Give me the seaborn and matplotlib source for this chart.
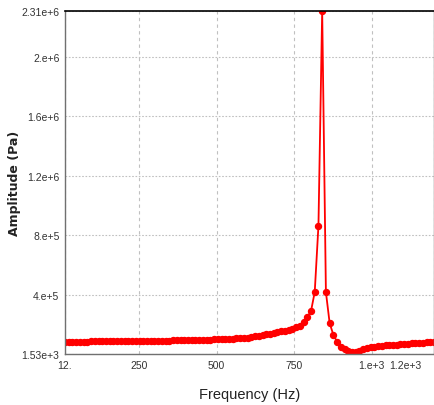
import matplotlib
matplotlib.use('Agg')
import matplotlib.pyplot as plt
from matplotlib.transforms import ScaledTranslation
import seaborn as sns
import pandas as pd

# frequency samples (Hz)
freq = [12, 24, 36, 48, 60, 72, 84, 96, 108, 120,
        132, 144, 156, 168, 180, 192, 204, 216, 228, 240,
        252, 264, 276, 288, 300, 312, 324, 336, 348, 360,
        372, 384, 396, 408, 420, 432, 444, 456, 468, 480,
        492, 504, 516, 528, 540, 552, 564, 576, 588, 600,
        612, 624, 636, 648, 660, 672, 684, 696, 708, 720,
        732, 744, 756, 768, 780, 792, 804, 816, 828, 840,
        852, 864, 876, 888, 900, 912, 924, 936, 948, 960,
        972, 984, 996, 1008, 1020, 1032, 1044, 1056, 1068, 1080,
        1092, 1104, 1116, 1128, 1140, 1152, 1164, 1176, 1188, 1200]

# amplitude in kPa
amp_kpa = [84, 84, 84, 85, 85, 85, 85, 86, 86, 86,
           86, 86, 87, 87, 87, 87, 88, 88, 88, 88,
           89, 89, 89, 90, 90, 91, 91, 92, 92, 93,
           93, 94, 94, 95, 96, 96, 97, 98, 98, 99,
           100, 101, 102, 103, 104, 105, 107, 108, 110, 112,
           118, 121, 125, 129, 133, 138, 143, 148, 153, 158,
           163, 170, 180, 192, 215, 250, 290, 418, 866, 2310,
           418, 210, 130, 84, 52, 32, 20, 14, 18, 24,
           32, 40, 46, 50, 53, 56, 59, 61, 63, 65,
           67, 69, 71, 73, 75, 77, 78, 80, 82, 84]

xticks = [12, 250, 500, 750, 1000, 1200]
xtick_labels = ['12.', '250', '500', '750', '1.e+3', '1.2e+3']
yticks = [1530, 4e5, 8e5, 1.2e6, 1.6e6, 2e6, 2.31e6]
ytick_labels = ['1.53e+3', '4.e+5', '8.e+5', '1.2e+6', '1.6e+6', '2.e+6', '2.31e+6']

df = pd.DataFrame({'freq': freq, 'amp': [a * 1000 for a in amp_kpa]})

sns.set_style('white')
plt.rcParams['font.family'] = ['Liberation Sans', 'DejaVu Sans']

fig = plt.figure(figsize=(4.35, 4.06), dpi=100)
ax = fig.add_axes([65 / 435, 1 - 355 / 406, 369 / 435, 343 / 406])

sns.lineplot(data=df, x='freq', y='amp', ax=ax, color='#ff0000', linewidth=1.3,
             marker='o', markersize=4.3, markeredgecolor='#ff0000', markeredgewidth=1.0)

ax.set_xlim(12, 1200)
ax.set_ylim(1530, 2.31e6)
ax.set_xticks(xticks)
ax.set_xticklabels(xtick_labels, fontsize=7.5, color='#333333')
ax.set_yticks(yticks)
ax.set_yticklabels(ytick_labels, fontsize=7.5, color='#333333')
ax.tick_params(length=0, pad=4)

# the last x label sits left of the axis end, as in the original
last = ax.get_xticklabels()[-1]
last.set_horizontalalignment('right')
offset = ScaledTranslation(-13 / 100, 0, fig.dpi_scale_trans)
for lbl in ax.xaxis.get_majorticklabels()[-1:]:
    lbl.set_transform(lbl.get_transform() + offset)

# grid: dashed verticals, dotted horizontals
ax.xaxis.grid(True, linestyle=(0, (3, 3)), color='#c0c0c0', linewidth=0.8)
ax.yaxis.grid(True, linestyle=(0, (1.5, 1.5)), color='#c0c0c0', linewidth=0.8)

for side in ['left', 'bottom', 'right']:
    ax.spines[side].set_color('#707070')
    ax.spines[side].set_linewidth(1.0)
ax.spines['top'].set_color('black')
ax.spines['top'].set_linewidth(1.2)

ax.set_xlabel('Frequency (Hz)', fontsize=10.5, color='#222222')
ax.xaxis.set_label_coords(0.5, -0.097)
ax.set_ylabel('Amplitude (Pa)', fontsize=9, fontweight='bold', color='#222222',
              family=['DejaVu Sans'])
ax.yaxis.set_label_coords(-0.118, 0.5)

plt.savefig('out.png', dpi=100)
plt.close()
